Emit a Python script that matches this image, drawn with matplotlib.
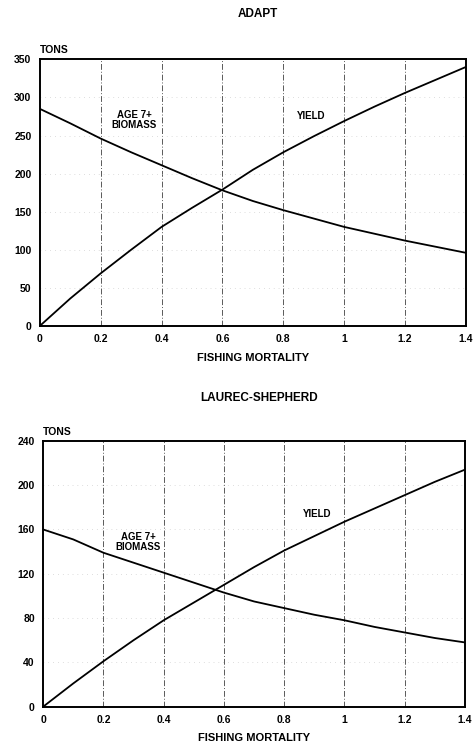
import numpy as np
import matplotlib
matplotlib.use("Agg")
import matplotlib.pyplot as plt

plt.rcParams.update({
    "font.family": ["Liberation Sans", "DejaVu Sans"],
    "font.weight": "bold", "font.size": 7,
    "axes.linewidth": 1.4,
})

# ---------------- data ----------------
F = [0.0, 0.1, 0.2, 0.3, 0.4, 0.5, 0.6, 0.7, 0.8, 0.9, 1.0, 1.1, 1.2, 1.3, 1.4]

adapt_yield = [0, 36, 69, 100, 130, 155, 179, 205, 228, 249, 269, 288, 306, 323, 340]
adapt_biomass = [285, 266, 246, 228, 211, 194, 178, 164, 152, 141, 130, 121, 112, 104, 96]

ls_yield = [0, 21, 41, 60, 78, 94, 110, 126, 141, 154, 167, 179, 191, 203, 214]
ls_biomass = [160, 151, 139, 130, 121, 112, 103, 95, 89, 83, 78, 72, 67, 62, 58]

panels = [
    ("ADAPT", adapt_yield, adapt_biomass, [0, 50, 100, 150, 200, 250, 300, 350],
     (0.31, 270), (0.89, 275)),
    ("LAUREC-SHEPHERD", ls_yield, ls_biomass, [0, 40, 80, 120, 160, 200, 240],
     (0.315, 149), (0.91, 174)),
]
xticks = [0, 0.2, 0.4, 0.6, 0.8, 1, 1.2, 1.4]
xlabels = ["0", "0.2", "0.4", "0.6", "0.8", "1", "1.2", "1.4"]

fig = plt.figure(figsize=(4.74, 7.51), dpi=100)
rects = [[0.084, 0.566, 0.899, 0.355], [0.091, 0.059, 0.890, 0.354]]
title_y = [0.981, 0.470]

for (title, yld, bio, yt, bio_pos, yld_pos), r, ty in zip(panels, rects, title_y):
    ax = fig.add_axes(r)
    for x in xticks[1:-1]:
        ax.axvline(x, color="0.35", lw=0.7, ls=(0, (6, 2, 1, 2)))
    for y in yt[1:-1]:
        ax.axhline(y, color="0.75", lw=0.5, ls=(0, (1, 6)))
    ax.plot(F, yld, color="black", lw=1.3)
    ax.plot(F, bio, color="black", lw=1.3)
    ax.set_xlim(0, 1.4)
    ax.set_ylim(yt[0], yt[-1])
    ax.set_xticks(xticks)
    ax.set_xticklabels(xlabels)
    ax.set_yticks(yt)
    ax.tick_params(length=0, pad=6, labelsize=7.5)
    ax.set_xlabel("FISHING MORTALITY", fontsize=8, fontweight="bold", labelpad=6)
    ax.text(0, 1.015, "TONS", transform=ax.transAxes, ha="left", va="bottom",
            fontsize=7.5, fontweight="bold")
    ax.text(*bio_pos, "AGE 7+\nBIOMASS", ha="center", va="center",
            fontsize=7, fontweight="bold", linespacing=1.0)
    ax.text(*yld_pos, "YIELD", ha="center", va="center",
            fontsize=7, fontweight="bold")
    fig.text(r[0] + r[2] / 2 + 0.01, ty, title, ha="center", va="center",
             fontsize=8.5, fontweight="bold")

fig.savefig("out.png", dpi=100)
